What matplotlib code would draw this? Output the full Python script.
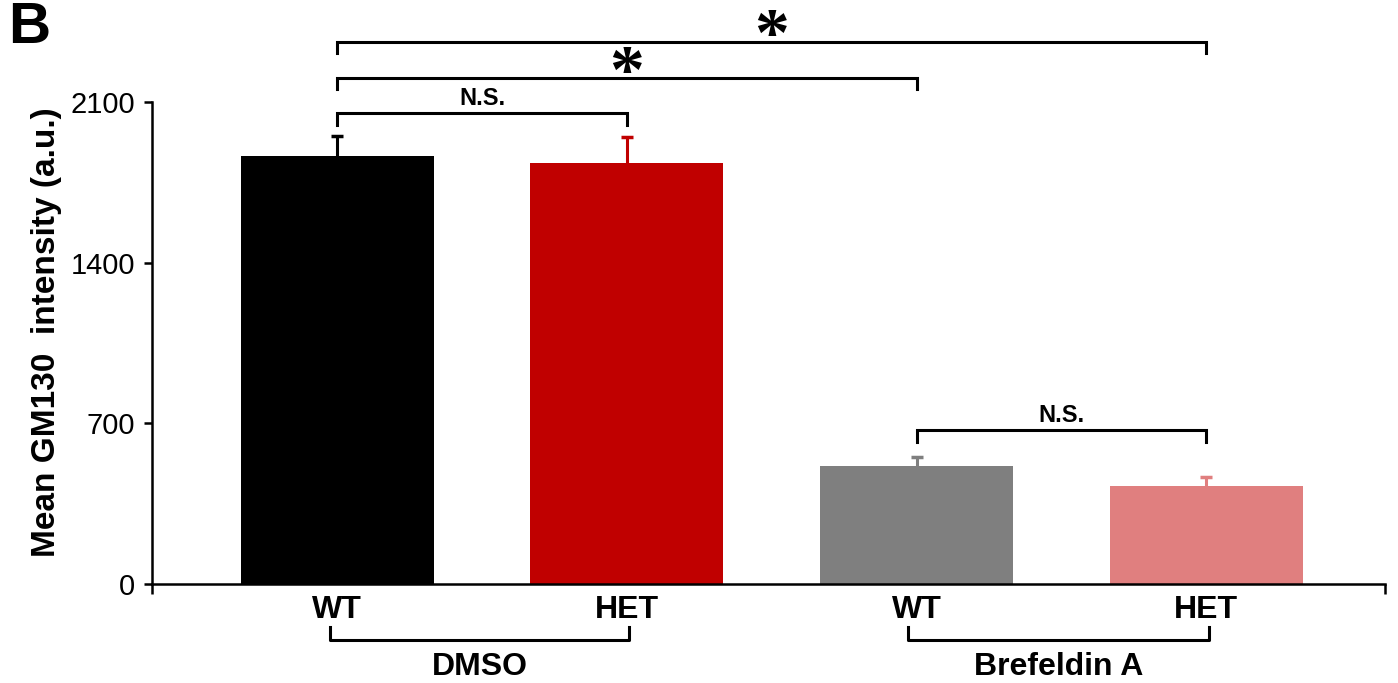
import matplotlib.pyplot as plt
import matplotlib.transforms as mtransforms

# data
groups = ['DMSO', 'Brefeldin A']
genotypes = ['WT', 'HET', 'WT', 'HET']
means = [1865, 1834, 512, 428]
errors = [88, 114, 42, 38]
colors = ['#000000', '#C00000', '#7F7F7F', '#E07F7F']
yticks = [0, 700, 1400, 2100]

plt.rcParams['font.family'] = ['Liberation Sans', 'DejaVu Sans']

fig = plt.figure(figsize=(13.98, 6.83), dpi=100)
ax = fig.add_axes([152 / 1398, 1 - 584 / 683, (1385 - 152) / 1398, (584 - 102) / 683])

x = list(range(len(means)))
ax.bar(x, means, width=0.667, color=colors, zorder=2)
for xi, m, e, c in zip(x, means, errors, colors):
    _, caps, _ = ax.errorbar(xi, m, yerr=[[0], [e]], fmt='none', ecolor=c, elinewidth=2.2,
                             capsize=4, capthick=2.5, zorder=1)
    caps[0].set_visible(False)

ax.set_xlim(-0.639, 3.617)
ax.set_ylim(0, 2100)
ax.set_yticks(yticks)
ax.set_yticklabels([str(v) for v in yticks], fontsize=21)
ax.tick_params(axis='y', direction='out', length=6, width=1.8, pad=6)
ax.set_xticks(x)
ax.set_xticklabels(genotypes, fontsize=23, fontweight='bold')
ax.tick_params(axis='x', which='major', length=0, pad=8)
ax.set_xticks([-0.639, 3.617], minor=True)
ax.tick_params(axis='x', which='minor', direction='out', length=7, width=1.8)
for s in ['top', 'right']:
    ax.spines[s].set_visible(False)
for s in ['left', 'bottom']:
    ax.spines[s].set_linewidth(1.8)

ax.set_ylabel('Mean GM130  intensity (a.u.)', fontsize=24, fontweight='bold')
ax.yaxis.set_label_coords(-0.073, 0.522)

# significance brackets
def bracket(x0, x1, y, drop, text, ty, size, fam):
    ax.plot([x0, x0, x1, x1], [y - drop, y, y, y - drop], color='black', lw=2.2,
            clip_on=False, solid_joinstyle='miter')
    ax.text((x0 + x1) / 2, ty, text, ha='center', va='center', fontsize=size,
            fontweight='bold', family=fam, clip_on=False)

bracket(0, 1, 2052, 52, 'N.S.', 2117, 17, ['Liberation Sans'])
bracket(0, 2, 2205, 48, '*', 2215, 50, ['Liberation Serif', 'DejaVu Serif'])
bracket(0, 3, 2361, 47, '*', 2375, 50, ['Liberation Serif', 'DejaVu Serif'])
bracket(2, 3, 671, 52, 'N.S.', 736, 17, ['Liberation Sans'])

# group brackets under the axis
trans = mtransforms.blended_transform_factory(ax.transData, ax.transAxes)
for (x0, x1), g in zip([(-0.024, 1.008), (1.971, 3.01)], groups):
    ax.plot([x0, x0, x1, x1], [-0.089, -0.116, -0.116, -0.089], color='black', lw=2.2,
            transform=trans, clip_on=False)
    ax.text((x0 + x1) / 2, -0.172, g, ha='center', va='center', fontsize=23,
            fontweight='bold', transform=trans)

fig.text(8 / 1398, 1 - 28 / 683, 'B', fontsize=42, fontweight='bold', va='center')

fig.savefig('out.png', dpi=100)
